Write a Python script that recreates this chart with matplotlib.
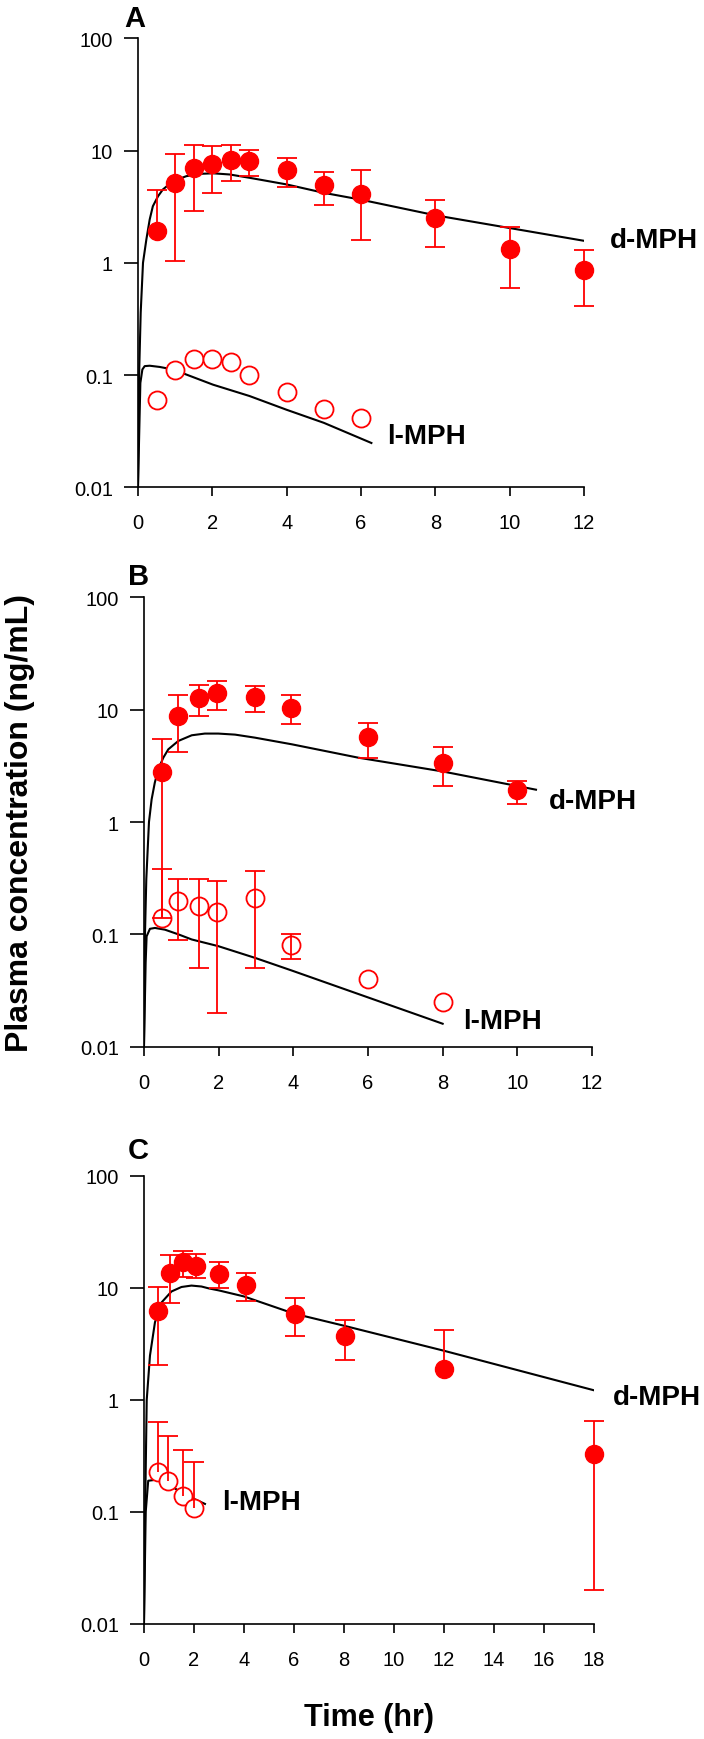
import numpy as np
import matplotlib.pyplot as plt
from matplotlib.ticker import FixedLocator, FuncFormatter, NullLocator

plt.rcParams['font.family'] = ['Liberation Sans', 'DejaVu Sans']

nan = np.nan

# ---------------- Panel A ----------------
a_t = [0.5, 1, 1.5, 2, 2.5, 3, 4, 5, 6, 8, 10, 12]
a_d = [1.92, 5.1, 7.0, 7.6, 8.3, 8.1, 6.7, 4.9, 4.1, 2.5, 1.33, 0.86]
a_d_hi = [4.45, 9.25, 11.1, 11.0, 11.2, 10.2, 8.65, 6.45, 6.65, 3.63, 2.09, 1.30]
a_d_lo = [nan, 1.03, 2.9, 4.2, 5.35, 5.9, 4.76, 3.25, 1.59, 1.39, 0.60, 0.41]

a_l_t = [0.5, 1, 1.5, 2, 2.5, 3, 4, 5, 6]
a_l = [0.060, 0.110, 0.138, 0.139, 0.131, 0.100, 0.070, 0.050, 0.041]

# model curves
a_fit_d_t = [0.0, 0.03, 0.073, 0.135, 0.225, 0.315, 0.40, 0.54, 0.67, 0.94, 1.3, 1.66,
             2.02, 2.47, 3.0, 4.0, 5.0, 6.0, 8.0, 10.0, 12.0]
a_fit_d = [0.01, 0.1, 0.36, 1.0, 1.61, 2.43, 3.19, 3.92, 4.5, 5.33, 5.91, 6.2,
           6.27, 6.12, 5.72, 4.99, 4.2, 3.65, 2.65, 2.04, 1.57]
a_fit_l_t = [0.0, 0.064, 0.118, 0.18, 0.315, 0.585, 0.94, 1.3, 2.02, 3.0, 4.0, 5.0, 5.96, 6.28]
a_fit_l = [0.01, 0.085, 0.112, 0.12, 0.121, 0.118, 0.112, 0.101, 0.082, 0.065, 0.049,
           0.0375, 0.0275, 0.0248]

# ---------------- Panel B ----------------
b_t = [0.47, 0.92, 1.47, 1.95, 2.97, 3.93, 6, 8, 10]
b_d = [2.8, 8.7, 12.6, 14.0, 13.1, 10.4, 5.7, 3.35, 1.91]
b_d_hi = [5.45, 13.4, 16.5, 18.0, 16.4, 13.4, 7.68, 4.63, 2.32]
b_d_lo = [0.14, 4.2, 8.8, 9.95, 9.55, 7.5, 3.72, 2.11, 1.46]

b_l_t = [0.47, 0.92, 1.47, 1.95, 2.97, 3.93, 6, 8]
b_l = [0.140, 0.198, 0.179, 0.159, 0.209, 0.080, 0.040, 0.0252]
b_l_hi = [0.378, 0.308, 0.308, 0.298, 0.366, 0.100, nan, nan]
b_l_lo = [nan, 0.089, 0.0504, 0.020, 0.0504, 0.0597, nan, nan]

b_fit_d_t = [0.0, 0.027, 0.0625, 0.134, 0.205, 0.29, 0.384, 0.518, 0.652, 0.92, 1.28,
             1.63, 1.99, 2.44, 2.97, 3.96, 4.85, 5.74, 8.0, 10.5]
b_fit_d = [0.01, 0.1, 0.31, 1.0, 1.59, 2.24, 2.95, 3.74, 4.44, 5.27, 5.92,
           6.13, 6.13, 6.0, 5.64, 4.92, 4.29, 3.74, 2.82, 1.94]
b_fit_l_t = [0.0, 0.045, 0.071, 0.16, 0.295, 0.5625, 0.92, 1.28, 1.99, 2.97, 3.96, 8.0]
b_fit_l = [0.01, 0.056, 0.096, 0.112, 0.114, 0.110, 0.100, 0.090, 0.0785, 0.0618,
           0.0476, 0.016]

# ---------------- Panel C ----------------
c_t = [0.58, 1.04, 1.58, 2.1, 3.0, 4.1, 6.05, 8.05, 12, 18]
c_d = [6.2, 13.6, 16.9, 15.7, 13.4, 10.6, 5.88, 3.72, 1.88, 0.332]
c_d_hi = [10.2, 19.6, 21.3, 20.3, 17.0, 13.6, 8.16, 5.22, 4.21, 0.645]
c_d_lo = [2.07, 7.36, 12.6, 12.3, 9.9, 7.6, 3.73, 2.26, nan, 0.0203]

c_l_t = [0.57, 0.97, 1.57, 2.0]
c_l = [0.229, 0.19, 0.14, 0.109]
c_l_hi = [0.64, 0.474, 0.358, 0.28]
c_l_lo = [nan, nan, nan, nan]

c_fit_d_t = [0.0, 0.04, 0.11, 0.24, 0.44, 0.71, 1.1, 1.5, 1.9, 2.3, 2.6, 3.0, 4.0,
             6.0, 8.0, 12.0, 18.0]
c_fit_d = [0.01, 0.081, 1.0, 2.49, 4.94, 7.45, 9.3, 10.2, 10.5, 10.3, 9.9, 9.5, 8.4,
           5.9, 4.6, 2.75, 1.22]
c_fit_l_t = [0.0, 0.07, 0.17, 0.57, 0.97, 1.57, 2.44]
c_fit_l = [0.01, 0.1, 0.19, 0.195, 0.178, 0.145, 0.118]

y_ticks = [0.01, 0.1, 1, 10, 100]


def draw_err(ax, t, mean, lo, hi):
    t = np.array(t, float)
    mean = np.array(mean, float)
    lo = np.array(lo, float)
    hi = np.array(hi, float)
    bot = np.where(np.isnan(lo), mean, lo)
    top = np.where(np.isnan(hi), mean, hi)
    ax.vlines(t, bot, top, color='red', lw=1.3, zorder=4, clip_on=False)
    ax.plot(t, hi, ls='none', marker='_', ms=14.5, mew=1.3, color='red', zorder=4, clip_on=False)
    ax.plot(t, lo, ls='none', marker='_', ms=14.5, mew=1.3, color='red', zorder=4, clip_on=False)


def setup(ax, xmax):
    ax.set_yscale('log')
    ax.set_ylim(0.01, 100)
    ax.set_xlim(0, xmax)
    ax.yaxis.set_major_locator(FixedLocator(y_ticks))
    ax.yaxis.set_minor_locator(NullLocator())
    ax.yaxis.set_major_formatter(FuncFormatter(lambda v, p: '%g' % v))
    ax.set_xticks(np.arange(0, xmax + 1, 2))
    for s in ['top', 'right']:
        ax.spines[s].set_visible(False)
    for s in ['left', 'bottom']:
        ax.spines[s].set_linewidth(1.2)
    ax.tick_params(axis='y', direction='out', length=10, width=1.2, pad=8, labelsize=14.5)
    ax.tick_params(axis='x', direction='out', length=6.7, width=1.2, pad=12, labelsize=14.5)


def draw_panel(ax, xmax, fits, d, l, d_err, l_err, d_lab, l_lab):
    setup(ax, xmax)
    for ft, fv in fits:
        ax.plot(ft, fv, color='black', lw=1.5, zorder=2)
    ax.plot(d[0], d[1], ls='none', marker='o', ms=13, color='red', zorder=3, clip_on=False)
    ax.plot(l[0], l[1], ls='none', marker='o', ms=13, mfc='white', mec='red', mew=1.3,
            zorder=3, clip_on=False)
    draw_err(ax, d[0], d[1], d_err[0], d_err[1])
    if l_err is not None:
        draw_err(ax, l[0], l[1], l_err[0], l_err[1])
    ax.text(d_lab[0], d_lab[1], 'd-MPH', fontsize=20, weight='bold', va='center',
            ha='left', clip_on=False)
    ax.text(l_lab[0], l_lab[1], 'l-MPH', fontsize=20, weight='bold', va='center',
            ha='left', clip_on=False)


fig = plt.figure(figsize=(7.04, 17.4), dpi=100)
axA = fig.add_axes([0.196, 0.7194, 0.6335, 0.258])
axB = fig.add_axes([0.2045, 0.3979, 0.6364, 0.2582])
axC = fig.add_axes([0.2045, 0.0661, 0.6392, 0.2575])

draw_panel(axA, 12, [(a_fit_d_t, a_fit_d), (a_fit_l_t, a_fit_l)],
           (a_t, a_d), (a_l_t, a_l), (a_d_lo, a_d_hi), None,
           (12.7, 1.6), (6.71, 0.0284))
draw_panel(axB, 12, [(b_fit_d_t, b_fit_d), (b_fit_l_t, b_fit_l)],
           (b_t, b_d), (b_l_t, b_l), (b_d_lo, b_d_hi), (b_l_lo, b_l_hi),
           (10.85, 1.53), (8.55, 0.0169))
draw_panel(axC, 18, [(c_fit_d_t, c_fit_d), (c_fit_l_t, c_fit_l)],
           (c_t, c_d), (c_l_t, c_l), (c_d_lo, c_d_hi), (c_l_lo, c_l_hi),
           (18.76, 1.06), (3.12, 0.123))

# panel letters and axis titles
fig.text(124 / 704, 1 - 19 / 1740, 'A', fontsize=21, weight='bold', ha='left', va='center')
fig.text(128 / 704, 1 - 577 / 1740, 'B', fontsize=21, weight='bold', ha='left', va='center')
fig.text(128 / 704, 1 - 1151 / 1740, 'C', fontsize=21, weight='bold', ha='left', va='center')
fig.text(20 / 704, 1 - 823 / 1740, 'Plasma concentration (ng/mL)', rotation=90,
         fontsize=23, weight='bold', ha='center', va='center')
fig.text(369 / 704, 1 - 1718 / 1740, 'Time (hr)', fontsize=22, weight='bold',
         ha='center', va='center')

fig.savefig('out.png', dpi=100)
